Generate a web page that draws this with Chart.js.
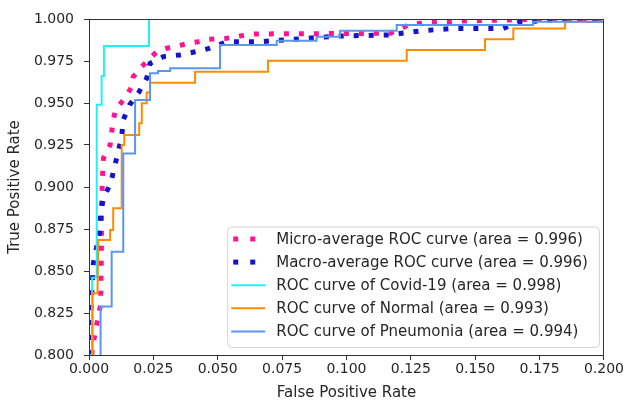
<!DOCTYPE html>
<html>
<head>
<meta charset="utf-8">
<script src="https://cdn.jsdelivr.net/npm/chart.js@4.4.0/dist/chart.umd.min.js"></script>
<style>
  body { margin: 0; background: #fff; }
  #wrap { width: 625px; height: 405px; }
</style>
</head>
<body>
<div id="wrap"><canvas id="roc" width="625" height="405"></canvas></div>
<script>
// tick values
var xTicks = [0, 0.025, 0.05, 0.075, 0.1, 0.125, 0.15, 0.175, 0.2];
var yTicks = [0.8, 0.825, 0.85, 0.875, 0.9, 0.925, 0.95, 0.975, 1.0];

var labels = [
  "Micro-average ROC curve (area = 0.996)",
  "Macro-average ROC curve (area = 0.996)",
  "ROC curve of Covid-19 (area = 0.998)",
  "ROC curve of Normal (area = 0.993)",
  "ROC curve of Pneumonia (area = 0.994)"
];

// micro-average curve
var microFpr = [0.001, 0.002, 0.0045, 0.0048, 0.0049, 0.0053, 0.0056, 0.0082, 0.0094, 0.0105, 0.014, 0.0166,
  0.0172, 0.0205, 0.0237, 0.0263, 0.0302, 0.0341, 0.0386, 0.0425, 0.0464, 0.0535, 0.0586, 0.0638,
  0.117, 0.124, 0.1297, 0.145, 0.18, 0.2];
var microTpr = [0.8, 0.81, 0.83, 0.86, 0.89, 0.9082, 0.9171, 0.925, 0.9399, 0.9468, 0.9528, 0.9597,
  0.9657, 0.9716, 0.9766, 0.9805, 0.9826, 0.9839, 0.9855, 0.9865, 0.9879, 0.9885, 0.9899, 0.9911,
  0.9915, 0.9964, 0.9978, 0.9988, 1.0, 1.0];

// macro-average curve
var macroFpr = [0.0004, 0.0004, 0.0017, 0.0043, 0.0045, 0.0056, 0.0084, 0.0098, 0.0127, 0.0133, 0.0157,
  0.0195, 0.0224, 0.0237, 0.0289, 0.0353, 0.0412, 0.047, 0.0535, 0.0664, 0.0975, 0.1169, 0.1227,
  0.1292, 0.1414, 0.1608, 0.1666, 0.179, 0.2];
var macroTpr = [0.8, 0.8169, 0.8546, 0.8744, 0.8843, 0.8933, 0.9022, 0.9111, 0.9299, 0.9399, 0.9488,
  0.9567, 0.9647, 0.9736, 0.9776, 0.9786, 0.9805, 0.9826, 0.9865, 0.9865, 0.9899, 0.9905, 0.9918,
  0.993, 0.9944, 0.9944, 0.9978, 0.9994, 1.0];

// Covid-19
var covidFpr = [0, 0.0012, 0.0012, 0.003, 0.003, 0.0049, 0.0049, 0.0058, 0.0058, 0.0233, 0.0233, 0.2];
var covidTpr = [0.8, 0.8, 0.846, 0.846, 0.949, 0.949, 0.966, 0.966, 0.984, 0.984, 1.0, 1.0];

// Normal
var normalFpr = [0.0014, 0.0014, 0.0033, 0.0036, 0.0082, 0.0082, 0.0094, 0.0094, 0.0127, 0.0127, 0.0137,
  0.0137, 0.0195, 0.0195, 0.0205, 0.0205, 0.0224, 0.0224, 0.0237, 0.0237, 0.0412, 0.0412, 0.0695,
  0.0695, 0.1234, 0.1234, 0.1538, 0.1538, 0.1648, 0.1648, 0.1849, 0.1849, 0.2];
var normalTpr = [0.8, 0.8367, 0.8367, 0.8685, 0.8685, 0.8744, 0.8744, 0.8873, 0.8873, 0.925, 0.925,
  0.931, 0.931, 0.9379, 0.9379, 0.9498, 0.9498, 0.9562, 0.9562, 0.9621, 0.9621, 0.9686, 0.9686,
  0.9752, 0.9752, 0.9815, 0.9815, 0.9879, 0.9879, 0.9944, 0.9944, 0.9984, 0.9984];

// Pneumonia
var pneuFpr = [0.0045, 0.0045, 0.0088, 0.0088, 0.0133, 0.0133, 0.0179, 0.0179, 0.0237, 0.0237, 0.0268,
  0.0268, 0.0315, 0.0315, 0.0509, 0.0509, 0.0729, 0.0729, 0.0884, 0.0884, 0.0975, 0.0975, 0.1195,
  0.1195, 0.1725, 0.1725, 0.2];
var pneuTpr = [0.8, 0.8288, 0.8288, 0.8615, 0.8615, 0.92, 0.92, 0.9518, 0.9518, 0.9677, 0.9677,
  0.969, 0.969, 0.9707, 0.9707, 0.9845, 0.9845, 0.9871, 0.9871, 0.9895, 0.9895, 0.993, 0.993,
  0.9964, 0.9964, 0.9984, 0.9984];

var colors = ["#ff1493", "#1414c8", "#22eeff", "#ff8c00", "#5b96ee"];

function pts(xs, ys) {
  var out = [];
  for (var i = 0; i < xs.length; i++) out.push({ x: xs[i], y: ys[i] });
  return out;
}

var FONT = "DejaVu Sans";
var TXT = "#262626";

// frame round the plot area
var framePlugin = {
  id: "frame",
  afterDatasetsDraw: function(chart) {
    var a = chart.chartArea, ctx = chart.ctx;
    ctx.save();
    ctx.strokeStyle = "#333";
    ctx.lineWidth = 1;
    ctx.strokeRect(a.left + 0.5, a.top + 0.5, a.right - a.left - 1, a.bottom - a.top);
    ctx.restore();
  }
};

// legend in the lower right corner, like matplotlib loc="lower right"
var legendPlugin = {
  id: "innerLegend",
  afterDraw: function(chart) {
    var a = chart.chartArea, ctx = chart.ctx;
    var ds = chart.data.datasets;
    ctx.save();
    ctx.font = "15px '" + FONT + "'";
    var maxW = 0;
    ds.forEach(function(d) { maxW = Math.max(maxW, ctx.measureText(d.label).width); });
    var rowH = 23.1;
    var right = a.right - 5, bottom = a.bottom - 8;
    var w = maxW + 60, h = rowH * ds.length + 5;
    var left = right - w, top = bottom - h;
    ctx.beginPath();
    ctx.roundRect(left + 0.5, top + 0.5, w, h, 4);
    ctx.fillStyle = "rgba(255,255,255,0.8)";
    ctx.fill();
    ctx.strokeStyle = "#d4d4d4";
    ctx.lineWidth = 1;
    ctx.stroke();
    ds.forEach(function(d, i) {
      var y = top + 12.5 + i * rowH;
      if (d.borderDash && d.borderDash.length) {
        ctx.fillStyle = d.borderColor;
        ctx.fillRect(left + 6, y - 2.5, 5, 5);
        ctx.fillRect(left + 23, y - 2.5, 5, 5);
      } else {
        ctx.strokeStyle = d.borderColor;
        ctx.lineWidth = d.borderWidth;
        ctx.beginPath();
        ctx.moveTo(left + 4, y);
        ctx.lineTo(left + 38, y);
        ctx.stroke();
      }
      ctx.fillStyle = TXT;
      ctx.textBaseline = "middle";
      ctx.textAlign = "left";
      ctx.fillText(d.label, left + 49, y + 1);
    });
    ctx.restore();
  }
};

var dotted = [5, 10];

new Chart(document.getElementById("roc"), {
  type: "line",
  data: {
    datasets: [
      { label: labels[0], data: pts(microFpr, microTpr), borderColor: colors[0], borderWidth: 5, borderDash: dotted, order: 5 },
      { label: labels[1], data: pts(macroFpr, macroTpr), borderColor: colors[1], borderWidth: 5, borderDash: dotted, order: 4 },
      { label: labels[2], data: pts(covidFpr, covidTpr), borderColor: colors[2], borderWidth: 2, order: 3 },
      { label: labels[3], data: pts(normalFpr, normalTpr), borderColor: colors[3], borderWidth: 2, order: 2 },
      { label: labels[4], data: pts(pneuFpr, pneuTpr), borderColor: colors[4], borderWidth: 2, order: 1 }
    ]
  },
  options: {
    responsive: false,
    animation: false,
    layout: { padding: { top: 19, right: 21, left: 0, bottom: 0 } },
    elements: { point: { radius: 0 }, line: { tension: 0, fill: false } },
    plugins: { legend: { display: false }, tooltip: { enabled: false } },
    scales: {
      x: {
        type: "linear", min: 0, max: 0.2,
        afterFit: function(s) { s.height = 50; },
        afterBuildTicks: function(s) { s.ticks = xTicks.map(function(v) { return { value: v }; }); },
        ticks: { padding: 1, color: TXT, font: { family: FONT, size: 14 }, maxRotation: 0,
          callback: function(v) { return Number(v).toFixed(3); } },
        grid: { drawOnChartArea: false, drawTicks: true, tickLength: 5, color: "#333" },
        border: { display: false },
        title: { display: true, text: "False Positive Rate", color: TXT, font: { family: FONT, size: 15 }, padding: { top: 3, bottom: 3 } }
      },
      y: {
        type: "linear", min: 0.8, max: 1.0,
        afterFit: function(s) { s.width = 89; },
        afterBuildTicks: function(s) { s.ticks = yTicks.map(function(v) { return { value: v }; }); },
        ticks: { padding: 10, color: TXT, font: { family: FONT, size: 14 },
          callback: function(v) { return Number(v).toFixed(3); } },
        grid: { drawOnChartArea: false, drawTicks: true, tickLength: 5, color: "#333" },
        border: { display: false },
        title: { display: true, text: "True Positive Rate", color: TXT, font: { family: FONT, size: 15 }, padding: { top: 6, bottom: 4 } }
      }
    }
  },
  plugins: [framePlugin, legendPlugin]
});
</script>
</body>
</html>
